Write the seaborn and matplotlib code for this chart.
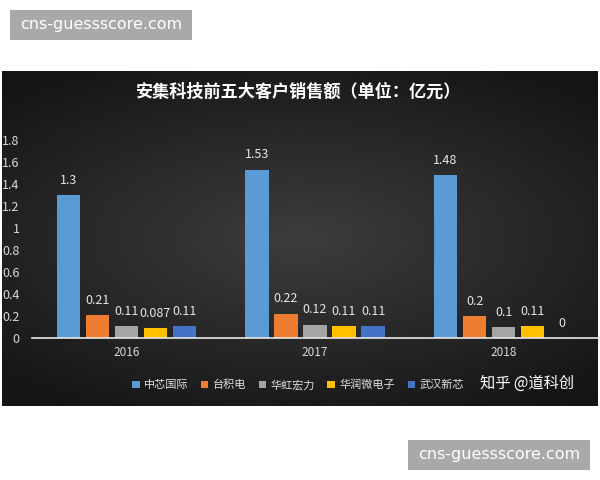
import matplotlib
matplotlib.use('Agg')
import matplotlib.pyplot as plt
import seaborn as sns
import pandas as pd
import numpy as np
from matplotlib.patches import Rectangle

years = ["2016", "2017", "2018"]
customers = ["中芯国际", "台积电", "华虹宏力", "华润微电子", "武汉新芯"]
smic = [1.3, 1.53, 1.48]
tsmc = [0.21, 0.22, 0.2]
hhgrace = [0.11, 0.12, 0.1]
crmicro = [0.087, 0.11, 0.11]
xmc = [0.11, 0.11, 0]
colors = ["#5b9bd5", "#ed7d31", "#a5a5a5", "#ffc000", "#4472c4"]

rows = []
for name, vals in zip(customers, [smic, tsmc, hhgrace, crmicro, xmc]):
    for y, v in zip(years, vals):
        rows.append({"年份": y, "客户": name, "销售额": v})
df = pd.DataFrame(rows)

sns.set_style("white")
plt.rcParams['font.family'] = ['Noto Sans CJK SC', 'DejaVu Sans']

fig = plt.figure(figsize=(6, 4.8), dpi=100)
fig.patch.set_facecolor("white")

# dark panel with radial gradient
bg = fig.add_axes([2 / 600, 1 - 406 / 480, 596 / 600, 335 / 480])
gy, gx = np.mgrid[-1:1:200j, -1:1:300j]
r = np.sqrt((gx * 0.9) ** 2 + (gy * 1.1) ** 2)
bg.imshow(0.24 - 0.12 * np.clip(r, 0, 1.3), cmap="gray", vmin=0, vmax=1,
          aspect="auto", extent=[0, 1, 0, 1])
bg.set_axis_off()

ax = fig.add_axes([32 / 600, 1 - 338 / 480, 566 / 600, 198 / 480])
ax.patch.set_alpha(0)
sns.barplot(data=df, x="年份", y="销售额", hue="客户", hue_order=customers,
            palette=colors, width=0.77, gap=0.2, saturation=1, ax=ax,
            legend=True, edgecolor="none", linewidth=0)
ax.set_ylim(0, 1.8)
ax.set_yticks(np.arange(0, 1.81, 0.2))
ax.set_yticklabels([f"{t:g}" for t in np.arange(0, 1.81, 0.2)])
ax.set_xlabel("")
ax.set_ylabel("")
for s in ["top", "right", "left"]:
    ax.spines[s].set_visible(False)
ax.spines["bottom"].set_color("#e8e8e8")
ax.spines["bottom"].set_linewidth(1.2)
ax.tick_params(axis="y", length=0, pad=9, labelsize=9, labelcolor="#d9d9d9")
ax.tick_params(axis="x", length=0, pad=6, labelsize=8.5, labelcolor="#d9d9d9")

for cont in ax.containers:
    ax.bar_label(cont, labels=[f"{b.get_height():g}" for b in cont],
                 padding=6, fontsize=9, color="#e6e6e6")

handles, labels = ax.get_legend_handles_labels()
ax.get_legend().remove()
fig.legend(handles, labels, ncol=5, loc="center", bbox_to_anchor=(298 / 600, 1 - 385 / 480),
           frameon=False, fontsize=8, labelcolor="#e0e0e0", handlelength=0.7,
           handleheight=0.7, handletextpad=0.4, columnspacing=1.1)

fig.text(299 / 600, 1 - 92 / 480, "安集科技前五大客户销售额（单位：亿元）", ha="center",
         va="center", fontsize=12.3, fontweight="bold", color="white")
fig.text(527 / 600, 1 - 383 / 480, "知乎 @道科创", ha="center", va="center",
         fontsize=11, color="white")

# watermark boxes
for x0, y0 in [(10, 10), (408, 440)]:
    fig.patches.append(Rectangle((x0 / 600, 1 - (y0 + 30) / 480), 182 / 600, 30 / 480,
                                 transform=fig.transFigure, facecolor="#a9a9a9",
                                 edgecolor="none"))
    fig.text((x0 + 91) / 600, 1 - (y0 + 15) / 480, "cns-guessscore.com",
             ha="center", va="center", fontsize=11.5, color="white",
             family="DejaVu Sans")

fig.savefig("out.png", dpi=100)
